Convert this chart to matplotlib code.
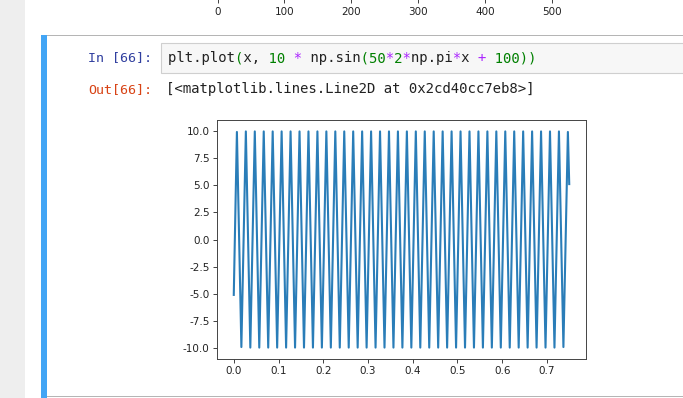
"""Jupyter cell screenshot: plt.plot(x, 10 * np.sin(...)) output."""

import matplotlib

matplotlib.use("Agg")
import matplotlib.pyplot as plt
from matplotlib.patches import Rectangle

# ---------------------------------------------------------------------------
# Data
# ---------------------------------------------------------------------------

start_point = (0.0, -5.1)
end_point = (0.75, 5.1)

peak_x = [0.007, 0.027, 0.047, 0.067, 0.087, 0.107, 0.127, 0.147, 0.167, 0.187,
          0.207, 0.227, 0.247, 0.267, 0.287, 0.307, 0.327, 0.347, 0.367, 0.387,
          0.407, 0.427, 0.447, 0.467, 0.487, 0.507, 0.527, 0.547, 0.567, 0.587,
          0.607, 0.627, 0.647, 0.667, 0.687, 0.707, 0.727, 0.747]
peak_y = [9.9, 9.95, 9.95, 9.95, 9.95, 9.95, 9.95, 9.95, 9.95, 9.95,
          9.95, 9.95, 9.95, 9.95, 9.95, 9.95, 9.95, 9.95, 9.95, 9.95,
          9.95, 9.95, 9.95, 9.95, 9.95, 9.95, 9.95, 9.95, 9.95, 9.95,
          9.95, 9.95, 9.95, 9.95, 9.95, 9.95, 9.95, 9.9]

trough_x = [0.017, 0.037, 0.057, 0.077, 0.097, 0.117, 0.137, 0.157, 0.177, 0.197,
            0.217, 0.237, 0.257, 0.277, 0.297, 0.317, 0.337, 0.357, 0.377, 0.397,
            0.417, 0.437, 0.457, 0.477, 0.497, 0.517, 0.537, 0.557, 0.577, 0.597,
            0.617, 0.637, 0.657, 0.677, 0.697, 0.717, 0.737]
trough_y = [-9.9, -9.95, -9.95, -9.95, -9.95, -9.95, -9.95, -9.95, -9.95, -9.95,
            -9.95, -9.95, -9.95, -9.95, -9.95, -9.95, -9.95, -9.95, -9.95, -9.95,
            -9.95, -9.95, -9.95, -9.95, -9.95, -9.95, -9.95, -9.95, -9.95, -9.95,
            -9.95, -9.95, -9.95, -9.95, -9.95, -9.95, -9.9]

# ticks of the previous cell's plot, cut off at the top of the screenshot
prev_ticks = [0, 100, 200, 300, 400, 500]

code_line = "plt.plot(x, 10 * np.sin(50*2*np.pi*x + 100))"
out_line = "[<matplotlib.lines.Line2D at 0x2cd40cc7eb8>]"
in_prompt = "In [66]:"
out_prompt = "Out[66]:"

# ---------------------------------------------------------------------------
# Layout (pixels of a 683x398 screenshot)
# ---------------------------------------------------------------------------

W, H = 683, 398
MONO = "DejaVu Sans Mono"


def fx(x):
    return x / W


def fy(y):
    return 1 - y / H


def box(x0, y0, x1, y1, **kw):
    """Rectangle in pixel coords (y measured from the top)."""
    return Rectangle((fx(x0), fy(y1)), fx(x1 - x0), (y1 - y0) / H,
                     transform=fig.transFigure, **kw)


fig = plt.figure(figsize=(W / 100, H / 100), dpi=100)
fig.patch.set_facecolor("white")

# notebook chrome
fig.add_artist(box(0, 0, 25, H, facecolor="#eeeeee", edgecolor="none"))
fig.add_artist(box(41, 35, 47, H + 2, facecolor="#42a5f5", edgecolor="none"))
fig.add_artist(box(47, 34.5, W + 2, 35.5, facecolor="#b5b5b5", edgecolor="none"))
fig.add_artist(box(47, 396.3, W + 2, 397.3, facecolor="#b5b5b5", edgecolor="none"))
fig.add_artist(box(161, 42.5, W + 5, 73, facecolor="#f7f7f7",
                   edgecolor="#cfcfcf", linewidth=0.8))

# prompts
fig.text(fx(152), fy(58), in_prompt, family=MONO, fontsize=9.6,
         color="#303f9f", ha="right", va="center")
fig.text(fx(152), fy(89.5), out_prompt, family=MONO, fontsize=9.6,
         color="#d84315", ha="right", va="center")

# syntax coloured code: one monospace layer per colour
palette = {"green": "#008000", "purple": "#aa22ff", "black": "#222222"}


def char_colour(c):
    if c.isdigit() or c in "()":
        return "green"
    if c in "*+":
        return "purple"
    return "black"


for name, colour in palette.items():
    layer = "".join(c if char_colour(c) == name else " " for c in code_line)
    fig.text(fx(168), fy(58), layer, family=MONO, fontsize=10.1,
             color=colour, ha="left", va="center")

fig.text(fx(166.5), fy(89.5), out_line, family=MONO, fontsize=10.1,
         color="#222222", ha="left", va="center")

# previous plot's x axis, only its tick labels are visible
ax_prev = fig.add_axes([fx(217.7), fy(-0.6), fx(367.2), 0.05])
ax_prev.set_xlim(0, 550)
ax_prev.set_xticks(prev_ticks)
ax_prev.set_yticks([])
ax_prev.patch.set_visible(False)
for s in ax_prev.spines.values():
    s.set_visible(False)
ax_prev.tick_params(axis="x", labelsize=7.5, length=2.8, width=0.6,
                    pad=2.5, colors="#222222")

# main plot
ax = fig.add_axes([fx(217), fy(359), fx(369), (359 - 120) / H])
xs = [start_point[0]]
ys = [start_point[1]]
for i, (px, py) in enumerate(zip(peak_x, peak_y)):
    xs.append(px)
    ys.append(py)
    if i < len(trough_x):
        xs.append(trough_x[i])
        ys.append(trough_y[i])
xs.append(end_point[0])
ys.append(end_point[1])

ax.plot(xs, ys, color="#2a7db8", linewidth=1.5)
ax.set_xlim(-0.0375, 0.7875)
ax.set_ylim(-11, 11)
ax.set_xticks([0.0, 0.1, 0.2, 0.3, 0.4, 0.5, 0.6, 0.7])
ax.set_yticks([-10.0, -7.5, -5.0, -2.5, 0.0, 2.5, 5.0, 7.5, 10.0])
ax.xaxis.set_major_formatter(plt.FormatStrFormatter("%.1f"))
ax.yaxis.set_major_formatter(plt.FormatStrFormatter("%.1f"))
ax.tick_params(labelsize=7.5, length=2.8, width=0.6, pad=2.5, colors="#222222")
for s in ax.spines.values():
    s.set_linewidth(0.7)
    s.set_color("#444444")

fig.savefig("out.png", dpi=100)
